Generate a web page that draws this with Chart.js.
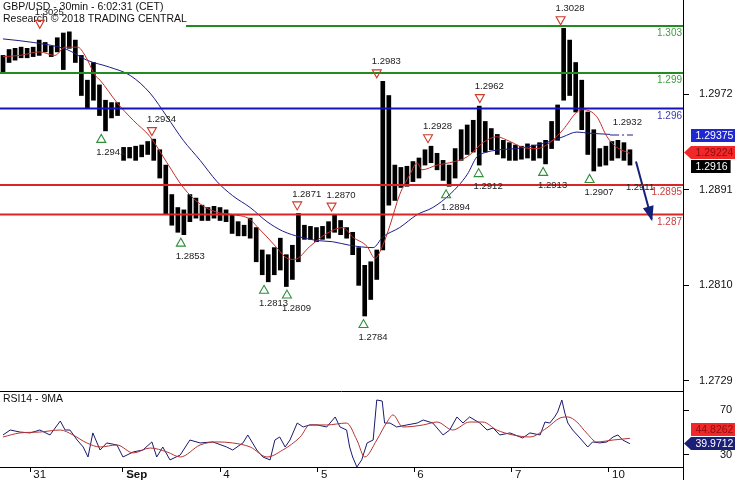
<!DOCTYPE html>
<html>
<head>
<meta charset="utf-8">
<script src="https://cdn.jsdelivr.net/npm/chart.js@4.4.1/dist/chart.umd.min.js"></script>
<style>
  html, body { margin: 0; padding: 0; background: #fff; }
  #wrap { position: relative; width: 735px; height: 480px; overflow: hidden; }
  #price-box { position: absolute; left: 0; top: 0; width: 735px; height: 391px; }
  #rsi-box { position: absolute; left: 0; top: 391px; width: 735px; height: 89px; }
</style>
</head>
<body>
<div id="wrap">
  <div id="price-box"><canvas id="price-chart"></canvas></div>
  <div id="rsi-box"><canvas id="rsi-chart"></canvas></div>
</div>
<script>
const FONT = '"Liberation Sans", Arial, sans-serif';
Chart.defaults.font.family = FONT;
Chart.defaults.color = '#111';

// x is a bar index (one bar = 1.5 hours of the 30 min chart)
const X_MIN = -0.5;
const X_MAX = 112.8;
const dayTickPos = [4.5, 19.9, 36.0, 52.2, 68.2, 84.4, 100.5];
const dayTickLabels = ['31', 'Sep', '4', '5', '6', '7', '10'];

const priceTicks = [1.2972, 1.2891, 1.2810, 1.2729];
const rsiTicks = [70, 30];

const highs = [
  1.3005, 1.3010, 1.3011, 1.3012, 1.3011, 1.3012, 1.3018, 1.3016, 1.3013, 1.3020,
  1.3024, 1.3025, 1.3018, 1.3005, 1.2984, 1.2999, 1.2980, 1.2967, 1.2965, 1.2965,
  1.2927, 1.2927, 1.2928, 1.2929, 1.2932, 1.2934, 1.2925, 1.2912, 1.2887, 1.2876,
  1.2874, 1.2887, 1.2884, 1.2878, 1.2876, 1.2877, 1.2876, 1.2874, 1.2870, 1.2864,
  1.2861, 1.2867, 1.2859, 1.2840, 1.2836, 1.2842, 1.2850, 1.2836, 1.2844, 1.2871,
  1.2861, 1.2860, 1.2859, 1.2860, 1.2864, 1.2870, 1.2865, 1.2859, 1.2855, 1.2842,
  1.2827, 1.2830, 1.2840, 1.2983, 1.2971, 1.2912, 1.2910, 1.2911, 1.2915, 1.2918,
  1.2925, 1.2928, 1.2922, 1.2916, 1.2912, 1.2926, 1.2942, 1.2946, 1.2950, 1.2962,
  1.2949, 1.2943, 1.2938, 1.2933, 1.2931, 1.2929, 1.2928, 1.2930, 1.2929, 1.2931,
  1.2933, 1.2949, 1.2963, 1.3028, 1.3018, 1.2999, 1.2984, 1.2957, 1.2942, 1.2926,
  1.2928, 1.2932, 1.2933, 1.2931, 1.2925
];
const lows = [
  1.2991, 1.2999, 1.3001, 1.3003, 1.3003, 1.3004, 1.3005, 1.3008, 1.3004, 1.3008,
  1.2993, 1.3011, 1.2999, 1.2971, 1.2960, 1.2967, 1.2954, 1.2941, 1.2952, 1.2954,
  1.2916, 1.2918, 1.2916, 1.2919, 1.2921, 1.2916, 1.2901, 1.2870, 1.2861, 1.2855,
  1.2853, 1.2864, 1.2867, 1.2865, 1.2865, 1.2867, 1.2865, 1.2864, 1.2854, 1.2852,
  1.2852, 1.2850, 1.2830, 1.2819, 1.2813, 1.2819, 1.2823, 1.2809, 1.2815, 1.2830,
  1.2849, 1.2849, 1.2847, 1.2849, 1.2850, 1.2855, 1.2853, 1.2850, 1.2836, 1.2810,
  1.2784, 1.2798, 1.2815, 1.2840, 1.2878, 1.2882, 1.2893, 1.2894, 1.2898, 1.2901,
  1.2912, 1.2914, 1.2908, 1.2899, 1.2894, 1.2901, 1.2916, 1.2921, 1.2923, 1.2912,
  1.2923, 1.2925, 1.2921, 1.2918, 1.2916, 1.2916, 1.2917, 1.2918, 1.2916, 1.2918,
  1.2913, 1.2926, 1.2933, 1.2967, 1.2971, 1.2957, 1.2942, 1.2921, 1.2907, 1.2911,
  1.2912, 1.2916, 1.2918, 1.2916, 1.2912
];

// red (fast) and blue (slow) moving averages
const fastMaX = [0, 2.8, 6.1, 8.6, 10.3, 12.4, 13.6, 15.3, 16.1, 18.9, 21.6, 24.4, 27.2, 29.9, 32.7, 35.5, 38.1, 41.0, 42.1, 43.8,
  45.4, 47.1, 48.4, 50.9, 53.7, 56.4, 58.0, 60.4, 61.7, 63.0, 64.2, 65.8, 67.5, 68.7, 69.5, 72.0, 74.1, 77.0, 79.6, 81.9,
  84.1, 86.2, 88.6, 90.7, 92.9, 95.2, 96.2, 98.5, 100.2, 101.8, 104.0];
const fastMa = [1.3004, 1.3005, 1.3008, 1.3005, 1.3012, 1.3012, 1.3005, 1.2988, 1.2984, 1.2965, 1.2950, 1.2936, 1.2914, 1.2893, 1.2879, 1.2872, 1.2870, 1.2866, 1.2860, 1.2851,
  1.2842, 1.2833, 1.2832, 1.2843, 1.2854, 1.2859, 1.2851, 1.2843, 1.2833, 1.2844, 1.2861, 1.2887, 1.2904, 1.2914, 1.2908, 1.2912, 1.2914, 1.2919, 1.2931, 1.2936,
  1.2932, 1.2927, 1.2926, 1.2931, 1.2942, 1.2957, 1.2959, 1.2953, 1.2936, 1.2927, 1.2922];
const slowMaX = [0, 5.0, 10.6, 13.9, 17.7, 21.1, 24.4, 27.2, 29.9, 32.7, 35.5, 38.1, 41.0, 43.8, 46.4, 49.3, 52.1, 54.7, 57.5, 61.4,
  63.0, 65.8, 68.7, 71.3, 74.1, 77.0, 78.6, 79.6, 82.4, 85.2, 88.6, 90.7, 92.9, 95.2, 97.3, 100.7];
const slowMa = [1.3019, 1.3016, 1.3010, 1.3001, 1.2995, 1.2988, 1.2973, 1.2953, 1.2933, 1.2916, 1.2898, 1.2886, 1.2876, 1.2864, 1.2856, 1.2851, 1.2848, 1.2847, 1.2844, 1.2842,
  1.2851, 1.2859, 1.2870, 1.2876, 1.2887, 1.2904, 1.2919, 1.2922, 1.2925, 1.2926, 1.2929, 1.2932, 1.2936, 1.2940, 1.2939, 1.2938];
const slowProjX = [100.7, 104.5];
const slowProjY = [1.29375, 1.29375];

// support / resistance levels
const levelValues = [1.303, 1.299, 1.296, 1.2895, 1.287];
const levelLabels = ['1.303', '1.299', '1.296', '1.2895', '1.287'];

// swing highs (H) and lows (L)
const markerX = [6.1, 16.3, 24.7, 29.5, 43.3, 47.1, 48.8, 54.5, 59.8, 62.0, 70.5, 73.5, 79.1, 78.9, 89.6, 92.5, 97.3, 102.0, 104.1];
const markerPrice = [1.3025, 1.2941, 1.2934, 1.2853, 1.2813, 1.2809, 1.2871, 1.2870, 1.2784, 1.2983, 1.2928, 1.2894, 1.2962, 1.2912, 1.2913, 1.3028, 1.2907, 1.2932, 1.2911];
const markerKind = ['H', 'L', 'H', 'L', 'L', 'L', 'H', 'H', 'L', 'H', 'H', 'L', 'H', 'L', 'L', 'H', 'L', 'H', 'L'];
const markerIcon = [true, true, true, true, true, true, true, true, true, true, true, true, true, true, true, true, true, false, false];

// projected move
const forecastX = [105.0, 107.6];
const forecastY = [1.2915, 1.2866];

const rsiX = [0, 1.2, 2.8, 4.5, 6.1, 7.8, 9.5, 10.3, 11.1, 12.3, 13.3, 14.1, 14.9, 16.1, 17.2, 18.9, 19.9, 21.6, 23.2, 24.7,
  25.5, 26.5, 27.7, 29.4, 31.0, 32.7, 34.8, 37.1, 38.1, 39.8, 40.6, 42.1, 43.1, 44.3, 45.1, 45.9, 46.8, 47.6, 48.8, 49.8,
  50.9, 52.1, 53.7, 55.1, 55.9, 57.0, 57.5, 58.0, 58.7, 59.5, 60.4, 61.4, 62.0, 62.9, 63.3, 64.2, 65.3, 67.0, 68.7, 69.7,
  71.3, 73.0, 74.1, 75.3, 76.3, 77.4, 79.1, 80.3, 81.3, 82.4, 84.1, 86.2, 87.4, 89.1, 89.9, 90.7, 91.5, 92.0, 92.7, 93.2,
  93.7, 94.5, 95.7, 97.0, 97.8, 99.0, 100.2, 101.2, 102.0, 102.8, 104.0];
const rsi = [47.8, 52.2, 50.4, 49.6, 52.2, 47.8, 60.2, 52.2, 52.2, 43.3, 37.1, 28.2, 49.6, 34.4, 40.7, 38.9, 28.2, 32.7, 34.4, 41.6,
  28.2, 37.1, 25.6, 30.0, 43.3, 40.7, 41.6, 37.1, 34.4, 40.7, 47.8, 34.4, 28.2, 25.6, 43.3, 46.0, 37.1, 43.3, 58.4, 54.9,
  56.7, 56.7, 54.9, 63.8, 54.9, 52.2, 37.1, 28.2, 19.3, 25.6, 40.7, 43.3, 78.9, 78.0, 58.4, 58.4, 54.9, 56.7, 58.4, 61.1,
  58.4, 47.8, 52.2, 63.8, 58.4, 63.8, 58.4, 52.2, 54.0, 47.8, 49.6, 45.1, 49.6, 47.8, 59.3, 58.4, 63.8, 68.2, 78.9, 67.3,
  58.4, 52.2, 45.1, 37.1, 41.6, 40.7, 41.6, 46.0, 47.8, 43.3, 40.0];
const rsiMaX = [0, 2.8, 6.1, 9.5, 11.6, 13.9, 16.1, 18.9, 21.6, 24.4, 27.2, 29.4, 32.7, 35.5, 38.1, 41.0, 43.8, 46.4, 49.3, 50.9,
  53.7, 57.0, 58.7, 60.0, 62.0, 63.7, 64.7, 66.3, 69.7, 72.0, 74.6, 77.4, 79.6, 81.9, 84.6, 87.4, 90.2, 92.4, 93.7, 95.2,
  96.8, 98.5, 101.2, 104.0];
const rsiMa = [46.0, 49.6, 50.4, 52.2, 47.8, 40.7, 37.1, 38.9, 31.8, 36.2, 32.7, 28.2, 38.9, 41.6, 40.7, 37.1, 28.2, 34.4, 46.0, 56.7,
  56.7, 58.4, 43.3, 28.2, 43.3, 59.3, 65.6, 54.9, 56.7, 59.3, 52.2, 59.3, 59.3, 52.2, 47.8, 46.0, 54.0, 62.9, 63.8, 59.3,
  49.6, 41.6, 43.3, 44.8];

// last values shown in the tags on the right
const lastSlowMa = 1.29375;
const lastFastMa = 1.29224;
const lastPrice = 1.2916;
const lastRsiMa = 44.8262;
const lastRsi = 39.9712;

const titleLines = ['GBP/USD - 30min - 6:02:31 (CET)', 'Research \u00a9 2018 TRADING CENTRAL'];

// ---- styles ----
const levelLineColors = ['#228b22', '#228b22', '#1414b8', '#d82626', '#d82626'];
const levelTextColors = ['#3f9d3f', '#3f9d3f', '#3a3ab8', '#c94040', '#c94040'];
const priceTags = [
  { text: lastSlowMa.toFixed(5), value: lastSlowMa, bg: '#1e28d2', fg: '#ffffff' },
  { text: lastFastMa.toFixed(5), value: lastFastMa, bg: '#f0282a', fg: '#8b0f0f', arrow: true },
  { text: lastPrice.toFixed(4), value: lastPrice, bg: '#000000', fg: '#ffffff' }
];
const rsiTags = [
  { text: lastRsiMa.toFixed(4), value: lastRsiMa, bg: '#f0282a', fg: '#8b0f0f' },
  { text: lastRsi.toFixed(4), value: lastRsi, bg: '#1c1f78', fg: '#ffffff', arrow: true }
];

function pts(xs, ys) {
  return xs.map(function (x, i) { return { x: x, y: ys[i] }; });
}

function drawTag(ctx, tag, y) {
  ctx.font = '10.5px ' + FONT;
  const w = ctx.measureText(tag.text).width;
  const left = 691;
  const right = Math.min(735, 695.5 + w + 3);
  const top = Math.round(y - 6.5);
  ctx.fillStyle = tag.bg;
  ctx.fillRect(left, top, right - left, 13);
  if (tag.arrow) {
    ctx.beginPath();
    ctx.moveTo(684, top + 6.5);
    ctx.lineTo(left, top);
    ctx.lineTo(left, top + 13);
    ctx.closePath();
    ctx.fill();
  }
  ctx.fillStyle = tag.fg;
  ctx.textAlign = 'left';
  ctx.textBaseline = 'middle';
  ctx.fillText(tag.text, 695.5, top + 7);
}

function drawTags(ctx, tags, scale) {
  const fixed = tags.find(function (t) { return t.arrow; });
  const fy = scale.getPixelForValue(fixed.value);
  tags.forEach(function (t) {
    let y = scale.getPixelForValue(t.value);
    if (t !== fixed && Math.abs(y - fy) < 14) {
      y = y < fy ? fy - 14 : fy + 14;
    }
    drawTag(ctx, t, y);
  });
}

function rightAxis(min, max, ticks, pad, fmt) {
  return {
    position: 'right', min: min, max: max, bounds: 'data',
    afterBuildTicks: function (s) { s.ticks = ticks.map(function (v) { return { value: v }; }); },
    afterFit: function (s) { s.width = 50; s.paddingTop = 0; s.paddingBottom = 0; },
    grid: { drawOnChartArea: false, drawTicks: true, tickLength: 6, color: '#000' },
    border: { display: true, color: '#000', width: 1 },
    ticks: { padding: pad, font: { size: 11 }, color: '#111', callback: fmt }
  };
}

const priceOverlay = {
  id: 'priceOverlay',
  afterDatasetsDraw: function (chart) {
    const ctx = chart.ctx;
    const xs = chart.scales.x;
    const ys = chart.scales.y;
    const area = chart.chartArea;
    ctx.save();

    ctx.font = '10px ' + FONT;
    ctx.textAlign = 'right';
    ctx.textBaseline = 'middle';
    levelValues.forEach(function (v, k) {
      ctx.fillStyle = levelTextColors[k];
      ctx.fillText(levelLabels[k], area.right - 1, ys.getPixelForValue(v) + 7.5);
    });

    // arrow head
    const ax0 = xs.getPixelForValue(forecastX[0]), ay0 = ys.getPixelForValue(forecastY[0]);
    const ax1 = xs.getPixelForValue(forecastX[1]), ay1 = ys.getPixelForValue(forecastY[1]);
    const ang = Math.atan2(ay1 - ay0, ax1 - ax0);
    const c = Math.cos(ang), s = Math.sin(ang);
    ctx.fillStyle = '#15207a';
    ctx.beginPath();
    ctx.moveTo(ax1 + 2 * c, ay1 + 2 * s);
    ctx.lineTo(ax1 - 13 * c + 5.5 * s, ay1 - 13 * s - 5.5 * c);
    ctx.lineTo(ax1 - 13 * c - 5.5 * s, ay1 - 13 * s + 5.5 * c);
    ctx.closePath();
    ctx.fill();

    // title block
    ctx.fillStyle = '#fff';
    ctx.fillRect(0, 0, 186, 27);
    ctx.fillStyle = '#111';
    ctx.font = '10.5px ' + FONT;
    ctx.textAlign = 'left';
    ctx.fillText(titleLines[0], 3, 7.5);
    ctx.fillText(titleLines[1], 3, 19.5);

    // swing markers
    ctx.lineWidth = 1.1;
    markerX.forEach(function (mx, k) {
      const px = xs.getPixelForValue(mx);
      const py = ys.getPixelForValue(markerPrice[k]);
      const high = markerKind[k] === 'H';
      const ty = high ? py - 7.5 : py + 7.5;
      if (markerIcon[k]) {
        ctx.strokeStyle = high ? '#d03a2a' : '#2f8f3a';
        ctx.beginPath();
        if (high) {
          ctx.moveTo(px - 4.5, ty - 4); ctx.lineTo(px + 4.5, ty - 4); ctx.lineTo(px, ty + 4);
        } else {
          ctx.moveTo(px - 4.5, ty + 4); ctx.lineTo(px + 4.5, ty + 4); ctx.lineTo(px, ty - 4);
        }
        ctx.closePath();
        ctx.stroke();
      }
      ctx.fillStyle = '#222';
      ctx.font = '9.5px ' + FONT;
      ctx.textAlign = 'center';
      ctx.fillText(markerPrice[k].toFixed(4), px + 9.5, high ? ty - 12 : ty + 14);
    });
    ctx.restore();
  },
  afterDraw: function (chart) {
    const ctx = chart.ctx;
    ctx.save();
    drawTags(ctx, priceTags, chart.scales.y);
    ctx.restore();
  }
};

const rsiOverlay = {
  id: 'rsiOverlay',
  afterDraw: function (chart) {
    const ctx = chart.ctx;
    const area = chart.chartArea;
    ctx.save();
    ctx.strokeStyle = '#000';
    ctx.lineWidth = 1;
    ctx.beginPath();
    ctx.moveTo(0, area.top + 0.5);
    ctx.lineTo(area.right, area.top + 0.5);
    ctx.moveTo(area.right + 0.5, area.bottom);
    ctx.lineTo(area.right + 0.5, chart.height);
    ctx.stroke();
    ctx.fillStyle = '#111';
    ctx.font = '10.5px ' + FONT;
    ctx.textAlign = 'left';
    ctx.textBaseline = 'middle';
    ctx.fillText('RSI14 - 9MA', 3, area.top + 8.5);
    drawTags(ctx, rsiTags, chart.scales.y);
    ctx.restore();
  }
};

const baseOptions = {
  responsive: true,
  maintainAspectRatio: false,
  animation: false,
  devicePixelRatio: 1,
  layout: { padding: { left: 0, right: 2, top: 0, bottom: 0 } },
  plugins: { legend: { display: false }, tooltip: { enabled: false }, title: { display: false } }
};

const levelSets = levelValues.map(function (v, k) {
  return {
    type: 'line',
    data: [{ x: X_MIN, y: v }, { x: X_MAX, y: v }],
    borderColor: levelLineColors[k], borderWidth: 2, pointRadius: 0, order: 0
  };
});

new Chart(document.getElementById('price-chart'), {
  type: 'bar',
  data: {
    datasets: levelSets.concat([
      { type: 'line', data: pts(forecastX, forecastY), borderColor: '#15207a', borderWidth: 2, pointRadius: 0, order: 0 },
      { type: 'line', data: pts(fastMaX, fastMa), borderColor: '#c0302a', borderWidth: 1, pointRadius: 0, cubicInterpolationMode: 'monotone', order: 1 },
      { type: 'line', data: pts(slowMaX, slowMa), borderColor: '#1c1c88', borderWidth: 1, pointRadius: 0, cubicInterpolationMode: 'monotone', order: 1 },
      { type: 'line', data: pts(slowProjX, slowProjY), borderColor: '#1c1c88', borderWidth: 1, borderDash: [9, 3, 2, 3], pointRadius: 0, order: 1 },
      {
        type: 'bar',
        data: highs.map(function (h, i) { return { x: i, y: [lows[i], h] }; }),
        backgroundColor: '#000', barThickness: 4, grouped: false, order: 2
      }
    ])
  },
  options: Object.assign({}, baseOptions, {
    scales: {
      x: { type: 'linear', display: false, min: X_MIN, max: X_MAX, offset: false, grid: { offset: false } },
      y: rightAxis(1.27204, 1.3052, priceTicks, 10, function (v) { return v.toFixed(4); })
    }
  }),
  plugins: [priceOverlay]
});

new Chart(document.getElementById('rsi-chart'), {
  type: 'line',
  data: {
    datasets: [
      { data: pts(rsiMaX, rsiMa), borderColor: '#b83232', borderWidth: 1, pointRadius: 0, cubicInterpolationMode: 'monotone' },
      { data: pts(rsiX, rsi), borderColor: '#1a1a6e', borderWidth: 1, pointRadius: 0, tension: 0 }
    ]
  },
  options: Object.assign({}, baseOptions, {
    scales: {
      x: {
        type: 'linear', min: X_MIN, max: X_MAX, offset: false,
        afterBuildTicks: function (s) { s.ticks = dayTickPos.map(function (v) { return { value: v }; }); },
        afterFit: function (s) { s.height = 13; s.paddingLeft = 0; s.paddingRight = 0; },
        grid: { drawOnChartArea: false, drawTicks: true, tickLength: 5, color: '#000', offset: false },
        border: { display: true, color: '#000', width: 1 },
        ticks: {
          align: 'start', padding: -4, autoSkip: false, maxRotation: 0, color: '#111',
          callback: function (v, i) { return ' ' + dayTickLabels[i]; },
          font: function (c) { return { size: 11.5, weight: dayTickLabels[c.index] === 'Sep' ? 'bold' : 'normal' }; }
        }
      },
      y: rightAxis(19.3, 86.9, rsiTicks, 31, function (v) { return String(v); })
    }
  }),
  plugins: [rsiOverlay]
});
</script>
</body>
</html>
